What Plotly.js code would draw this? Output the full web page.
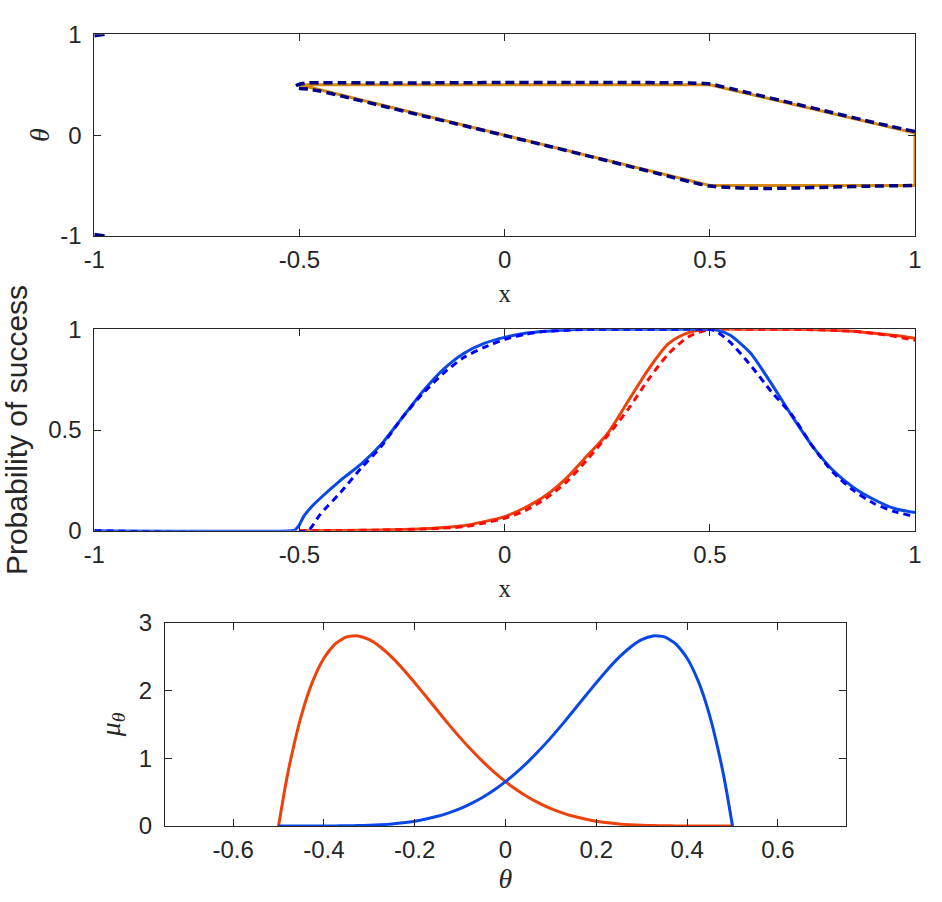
<!DOCTYPE html>
<html>
<head>
<meta charset="utf-8">
<script src="https://cdn.plot.ly/plotly-3.0.1.min.js"></script>
<style>html,body{margin:0;padding:0;background:#fff;}#chart{width:942px;height:902px;}</style>
</head>
<body>
<div id="chart"></div>
<script>
// ---------- Panel 1: theta vs x ----------
const topOrangeX = [-0.5, 0.5, 1, 1, 0.5, -0.5];
const topOrangeY = [0.5, 0.5, 0.02, -0.5, -0.5, 0.5];
const topNavyX = [1, 0.9, 0.8, 0.7, 0.6, 0.55, 0.5, 0.45, 0.4, 0.3, 0.2, 0.1, 0, -0.1, -0.2, -0.3, -0.4, -0.45, -0.48, -0.5, -0.51, -0.505, -0.49, -0.47, -0.45, -0.4, -0.3, -0.2, -0.1, 0, 0.1, 0.2, 0.3, 0.4, 0.45, 0.5, 0.55, 0.6, 0.65, 0.7, 0.8, 0.9, 1];
const topNavyY = [0.035, 0.125, 0.222, 0.318, 0.414, 0.462, 0.508, 0.518, 0.52, 0.522, 0.523, 0.523, 0.522, 0.52, 0.518, 0.518, 0.519, 0.52, 0.518, 0.505, 0.485, 0.468, 0.46, 0.452, 0.438, 0.39, 0.292, 0.193, 0.095, -0.003, -0.102, -0.203, -0.305, -0.408, -0.46, -0.505, -0.52, -0.527, -0.528, -0.525, -0.515, -0.505, -0.5];
const topCornerUpX = [-1, -0.975];
const topCornerUpY = [0.985, 1.0];
const topCornerLoX = [-1, -0.975];
const topCornerLoY = [-0.985, -1.0];

// ---------- Panel 2: probability of success ----------
const blueSolidX = [-1, -0.52, -0.51, -0.5, -0.49, -0.47, -0.45, -0.4, -0.35, -0.3, -0.25, -0.2, -0.15, -0.1, -0.05, 0, 0.05, 0.1, 0.15, 0.2, 0.3, 0.4, 0.5, 0.52, 0.55, 0.6, 0.65, 0.7, 0.75, 0.8, 0.85, 0.9, 0.95, 1];
const blueSolidY = [0, 0, 0.005, 0.03, 0.07, 0.12, 0.16, 0.25, 0.33, 0.43, 0.56, 0.69, 0.80, 0.88, 0.93, 0.96, 0.98, 0.99, 0.997, 1, 1, 1, 1, 0.995, 0.97, 0.88, 0.73, 0.57, 0.42, 0.3, 0.215, 0.155, 0.11, 0.09];
const blueDashX = [-1, -0.48, -0.47, -0.45, -0.4, -0.35, -0.3, -0.25, -0.2, -0.15, -0.1, -0.05, 0, 0.05, 0.1, 0.15, 0.2, 0.3, 0.4, 0.5, 0.52, 0.55, 0.6, 0.65, 0.7, 0.75, 0.8, 0.85, 0.9, 0.95, 1];
const blueDashY = [0, 0, 0.02, 0.08, 0.19, 0.31, 0.42, 0.56, 0.68, 0.78, 0.86, 0.91, 0.95, 0.975, 0.99, 0.995, 1, 1, 1, 1, 0.985, 0.935, 0.82, 0.69, 0.575, 0.42, 0.29, 0.2, 0.135, 0.095, 0.07];
const redSolidX = [-0.5, -0.4, -0.3, -0.2, -0.1, -0.05, 0, 0.05, 0.1, 0.15, 0.2, 0.25, 0.3, 0.35, 0.4, 0.45, 0.5, 0.6, 0.7, 0.8, 0.85, 0.9, 0.95, 1];
const redSolidY = [0, 0.001, 0.004, 0.01, 0.025, 0.045, 0.07, 0.115, 0.175, 0.26, 0.37, 0.48, 0.64, 0.8, 0.93, 0.985, 1, 1, 1, 0.995, 0.99, 0.98, 0.97, 0.955];
const redDashX = [-0.5, -0.4, -0.3, -0.2, -0.1, -0.05, 0, 0.05, 0.1, 0.15, 0.2, 0.25, 0.3, 0.35, 0.4, 0.45, 0.5, 0.6, 0.7, 0.8, 0.85, 0.9, 0.95, 1];
const redDashY = [0, 0.001, 0.003, 0.008, 0.02, 0.038, 0.062, 0.1, 0.16, 0.24, 0.35, 0.47, 0.6, 0.75, 0.88, 0.965, 1, 1, 1, 0.995, 0.99, 0.98, 0.965, 0.945];

// ---------- Panel 3: mu_theta ----------
const thetaGrid = [-0.5, -0.4875, -0.475, -0.45, -0.425, -0.4, -0.375, -0.35, -0.325, -0.3, -0.275, -0.25, -0.225, -0.2, -0.175, -0.15, -0.125, -0.1, -0.075, -0.05, -0.025, 0, 0.025, 0.05, 0.075, 0.1, 0.125, 0.15, 0.175, 0.2, 0.225, 0.25, 0.275, 0.3, 0.325, 0.35, 0.375, 0.4, 0.425, 0.45, 0.475, 0.4875, 0.5];
const muRed = [0, 0.493, 0.925, 1.625, 2.133, 2.480, 2.693, 2.795, 2.809, 2.753, 2.642, 2.492, 2.314, 2.118, 1.913, 1.706, 1.502, 1.306, 1.122, 0.951, 0.796, 0.656, 0.533, 0.426, 0.335, 0.258, 0.195, 0.143, 0.103, 0.071, 0.048, 0.031, 0.019, 0.011, 0.006, 0.003, 0.001, 0, 0, 0, 0, 0, 0];
const muBlue = [0, 0, 0, 0, 0, 0, 0.001, 0.003, 0.006, 0.011, 0.019, 0.031, 0.048, 0.071, 0.103, 0.143, 0.195, 0.258, 0.335, 0.426, 0.533, 0.656, 0.796, 0.951, 1.122, 1.306, 1.502, 1.706, 1.913, 2.118, 2.314, 2.492, 2.642, 2.753, 2.809, 2.795, 2.693, 2.480, 2.133, 1.625, 0.925, 0.493, 0];

// tick labels (plain hyphen minus as in the original)
const xTickVals12 = [-1, -0.5, 0, 0.5, 1];
const xTickText12 = ['-1', '-0.5', '0', '0.5', '1'];
const yTickVals1 = [-1, 0, 1];
const yTickText1 = ['-1', '0', '1'];
const yTickVals2 = [0, 0.5, 1];
const yTickText2 = ['0', '0.5', '1'];
const xTickVals3 = [-0.6, -0.4, -0.2, 0, 0.2, 0.4, 0.6];
const xTickText3 = ['-0.6', '-0.4', '-0.2', '0', '0.2', '0.4', '0.6'];
const yTickVals3 = [0, 1, 2, 3];
const yTickText3 = ['0', '1', '2', '3'];

const ORANGE = '#D68A12';
const NAVY = '#000085';
const BLUE_SOLID = '#0A48E6';
const BLUE_DASH = '#0000FF';
const RED_SOLID = '#EC420C';
const RED_DASH = '#FF0A0A';
const AX = '#262626';
const SANS = 'Liberation Sans, Arial, Helvetica, sans-serif';
const SERIF = 'Liberation Serif, Times New Roman, serif';

const traces = [
  {x: topOrangeX, y: topOrangeY, xaxis: 'x', yaxis: 'y', mode: 'lines', line: {color: ORANGE, width: 3}},
  {x: topNavyX, y: topNavyY, xaxis: 'x', yaxis: 'y', mode: 'lines', line: {color: NAVY, width: 3.5, dash: '9px,5px', shape: 'spline', smoothing: 0.6}},
  {x: topCornerUpX, y: topCornerUpY, xaxis: 'x', yaxis: 'y', mode: 'lines', line: {color: NAVY, width: 3.5}},
  {x: topCornerLoX, y: topCornerLoY, xaxis: 'x', yaxis: 'y', mode: 'lines', line: {color: NAVY, width: 3.5}},

  {x: redSolidX, y: redSolidY, xaxis: 'x2', yaxis: 'y2', mode: 'lines', line: {color: RED_SOLID, width: 3, shape: 'spline', smoothing: 0.8}},
  {x: redDashX, y: redDashY, xaxis: 'x2', yaxis: 'y2', mode: 'lines', line: {color: RED_DASH, width: 3, dash: '7px,5px', shape: 'spline', smoothing: 0.8}},
  {x: blueSolidX, y: blueSolidY, xaxis: 'x2', yaxis: 'y2', mode: 'lines', line: {color: BLUE_SOLID, width: 3, shape: 'spline', smoothing: 0.6}},
  {x: blueDashX, y: blueDashY, xaxis: 'x2', yaxis: 'y2', mode: 'lines', line: {color: BLUE_DASH, width: 3, dash: '7px,5px', shape: 'spline', smoothing: 0.6}},

  {x: thetaGrid, y: muRed, xaxis: 'x3', yaxis: 'y3', mode: 'lines', line: {color: RED_SOLID, width: 3, shape: 'spline', smoothing: 0.6}},
  {x: thetaGrid, y: muBlue, xaxis: 'x3', yaxis: 'y3', mode: 'lines', line: {color: BLUE_SOLID, width: 3, shape: 'spline', smoothing: 0.6}}
];

function axisBase(extra) {
  return Object.assign({
    showline: true, mirror: 'ticks', linecolor: AX, linewidth: 1,
    ticks: 'inside', ticklen: 7, tickwidth: 1, tickcolor: AX,
    showgrid: false, zeroline: false, tickmode: 'array',
    tickfont: {family: SANS, size: 24, color: AX},
    automargin: false, fixedrange: true
  }, extra);
}

const W = 942, H = 902;
const layout = {
  width: W, height: H,
  margin: {l: 0, r: 0, t: 0, b: 0},
  paper_bgcolor: '#ffffff', plot_bgcolor: '#ffffff',
  showlegend: false,
  xaxis: axisBase({domain: [94.3 / W, 915 / W], anchor: 'y', range: [-1, 1], tickvals: xTickVals12, ticktext: xTickText12, ticklabelstandoff: 2,
    title: {text: 'x', font: {family: SERIF, size: 25, color: AX}, standoff: 12}}),
  yaxis: axisBase({domain: [(H - 236) / H, (H - 34.3) / H], anchor: 'x', range: [-1, 1], tickvals: yTickVals1, ticktext: yTickText1, ticklabelstandoff: 7,
    title: {text: '<i>θ</i>', font: {family: SERIF, size: 28, color: AX}, standoff: 2}}),
  xaxis2: axisBase({domain: [94.3 / W, 915 / W], anchor: 'y2', range: [-1, 1], tickvals: xTickVals12, ticktext: xTickText12, ticklabelstandoff: 2,
    title: {text: 'x', font: {family: SERIF, size: 25, color: AX}, standoff: 12}}),
  yaxis2: axisBase({domain: [(H - 530.7) / H, (H - 329.3) / H], anchor: 'x2', range: [0, 1], tickvals: yTickVals2, ticktext: yTickText2, ticklabelstandoff: 7,
    title: {text: 'Probability of success', font: {family: SANS, size: 30, color: AX}, standoff: 12}}),
  xaxis3: axisBase({domain: [165 / W, 846 / W], anchor: 'y3', range: [-0.75, 0.75], tickvals: xTickVals3, ticktext: xTickText3, ticklabelstandoff: 2,
    title: {text: '<i>θ</i>', font: {family: SERIF, size: 28, color: AX}, standoff: 2}}),
  yaxis3: axisBase({domain: [(H - 826) / H, (H - 623) / H], anchor: 'x3', range: [0, 3], tickvals: yTickVals3, ticktext: yTickText3, ticklabelstandoff: 7,
    title: {text: '<i>μ</i><sub><i>θ</i></sub>', font: {family: SERIF, size: 28, color: AX}, standoff: 10}})
};

Plotly.newPlot('chart', traces, layout, {staticPlot: true, displayModeBar: false});
</script>
</body>
</html>
